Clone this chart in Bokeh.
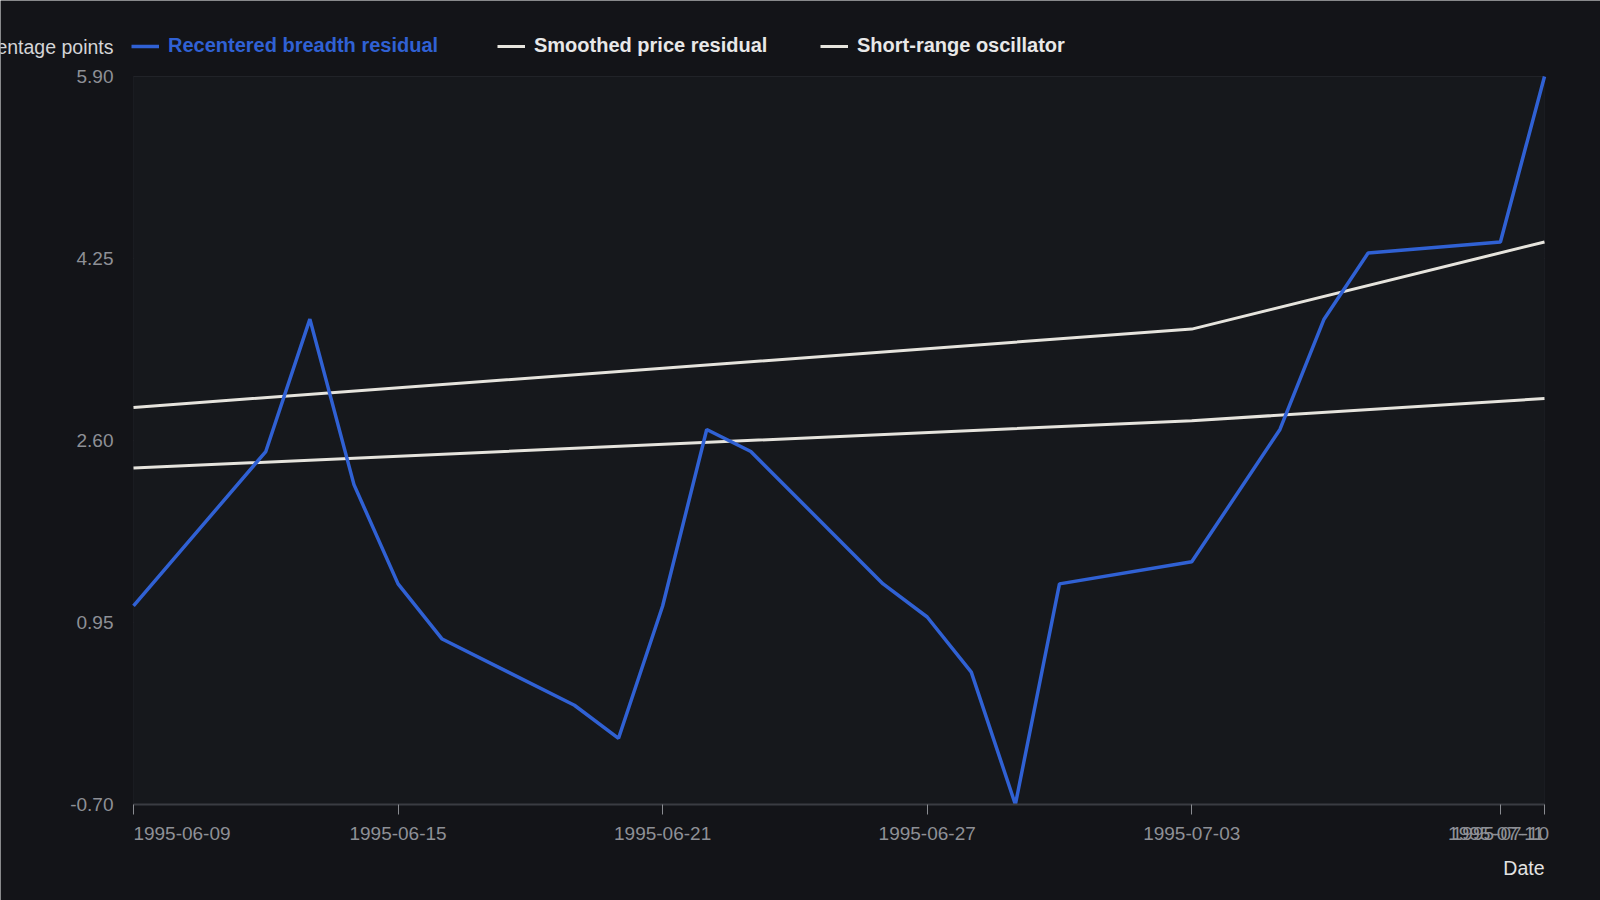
import pandas as pd
from bokeh.plotting import figure
from bokeh.models import (FixedTicker, DatetimeTickFormatter, PrintfTickFormatter, Legend,
                          Label, Range1d, BoxAnnotation, LinearAxis)
from bokeh.embed import file_html
from bokeh.resources import INLINE

# data
breadth_dates = [
    "1995-06-09", "1995-06-12", "1995-06-13", "1995-06-14", "1995-06-15",
    "1995-06-16", "1995-06-19", "1995-06-20", "1995-06-21", "1995-06-22",
    "1995-06-23", "1995-06-26", "1995-06-27", "1995-06-28", "1995-06-29",
    "1995-06-30", "1995-07-03", "1995-07-05", "1995-07-06", "1995-07-07",
    "1995-07-10", "1995-07-11",
]
breadth_values = [
    1.10, 2.50, 3.70, 2.20, 1.30,
    0.80, 0.20, -0.10, 1.10, 2.70,
    2.50, 1.30, 1.00, 0.50, -0.70,
    1.30, 1.50, 2.70, 3.70, 4.30,
    4.40, 5.90,
]
smoothed_dates = ["1995-06-09", "1995-07-03", "1995-07-11"]
smoothed_values = [2.90, 3.61, 4.40]
oscillator_dates = ["1995-06-09", "1995-07-03", "1995-07-11"]
oscillator_values = [2.35, 2.78, 2.98]

x_tick_dates = ["1995-06-09", "1995-06-15", "1995-06-21", "1995-06-27",
                "1995-07-03", "1995-07-10", "1995-07-11"]
y_ticks = [-0.70, 0.95, 2.60, 4.25, 5.90]

BG = "#131418"
PLOT_BG = "#16181c"
GRID = "#26282d"
BLUE = "#3061d4"
WHITE = "#e6e4dd"
TICK_TXT = "#8e9096"
FONT = "Liberation Sans"

W, H = 1600, 900
# where the data rectangle sits on the canvas (px)
AREA_L, AREA_R, AREA_T, AREA_B = 133, 1544, 76, 804
# x tick labels are kept inside the data box: first starts at its tick,
# last one ends at the right edge (px nudges of the label only)
LABEL_NUDGE = [48.5, 0, 0, 0, 0, 0, -48.5]


def ms(s):
    return pd.Timestamp(s).value / 1e6


# the frame fills the canvas; ranges are widened so the data box lands in place
x0, x1 = ms(x_tick_dates[0]), ms(x_tick_dates[-1])
y0, y1 = y_ticks[0], y_ticks[-1]
x_per_px = (x1 - x0) / (AREA_R - AREA_L)
y_per_px = (y1 - y0) / (AREA_B - AREA_T)

p = figure(
    x_axis_type="datetime",
    width=W, height=H,
    min_border=0, min_border_left=0, min_border_right=0,
    min_border_top=0, min_border_bottom=0,
    output_backend="svg",
    toolbar_location=None,
    background_fill_color=BG,
    border_fill_color=BG,
    x_range=Range1d(x0 - AREA_L * x_per_px, x1 + (W - AREA_R) * x_per_px),
    y_range=Range1d(y0 - (H - AREA_B) * y_per_px, y1 + AREA_T * y_per_px),
)
p.outline_line_color = None
p.xgrid.grid_line_color = None
p.ygrid.grid_line_color = None

# plot area panel and horizontal grid lines
p.add_layout(BoxAnnotation(left=x0, right=x1, bottom=y0, top=y1,
                           fill_color=PLOT_BG, fill_alpha=1,
                           line_color="#2a2c31", line_width=1, level="underlay"))
p.segment(x0=[x0] * len(y_ticks), y0=y_ticks, x1=[x1] * len(y_ticks), y1=y_ticks,
          line_color=GRID, line_width=1, level="underlay")

r_smooth = p.line(pd.to_datetime(smoothed_dates), smoothed_values, line_color=WHITE, line_width=3)
r_osc = p.line(pd.to_datetime(oscillator_dates), oscillator_values, line_color=WHITE, line_width=3)
r_blue = p.line(pd.to_datetime(breadth_dates), breadth_values, line_color=BLUE, line_width=3.5)

# x axis pinned to the bottom of the data box: line and tick marks only
tick_ms = [ms(d) for d in x_tick_dates]
xa = p.xaxis[0]
xa.fixed_location = y0
xa.bounds = (x0, x1)
xa.ticker = FixedTicker(ticks=tick_ms)
xa.major_label_overrides = {t: "" for t in tick_ms}
xa.axis_line_color = "#3a3c42"
xa.axis_line_width = 2
xa.major_tick_line_color = "#8a8c91"
xa.major_tick_in = 0
xa.major_tick_out = 10
xa.minor_tick_line_color = None

# second axis at the same place carries the date labels
label_pos = [t + n * x_per_px for t, n in zip(tick_ms, LABEL_NUDGE)]
xl = LinearAxis(fixed_location=y0, bounds=(x0, x1))
xl.ticker = FixedTicker(ticks=label_pos)
xl.major_label_overrides = {pos: d for pos, d in zip(label_pos, x_tick_dates)}
xl.axis_line_color = None
xl.major_tick_line_color = None
xl.major_tick_in = 0
xl.major_tick_out = 10
xl.minor_tick_line_color = None
xl.major_label_standoff = 12
xl.major_label_text_color = TICK_TXT
xl.major_label_text_font = FONT
xl.major_label_text_font_size = "19px"
p.add_layout(xl, "below")

# y axis, pinned to the left of the data box
p.yaxis.fixed_location = x0
p.yaxis.bounds = (y0, y1)
p.yaxis.ticker = FixedTicker(ticks=y_ticks)
p.yaxis.formatter = PrintfTickFormatter(format="%.2f")
p.yaxis.axis_line_color = None
p.yaxis.major_tick_line_color = None
p.yaxis.minor_tick_line_color = None
p.yaxis.major_label_standoff = 14
p.yaxis.major_label_text_color = TICK_TXT
p.yaxis.major_label_text_font = FONT
p.yaxis.major_label_text_font_size = "19px"

# axis titles
p.add_layout(Label(x=AREA_L - 20, y=H - 46, x_units="screen", y_units="screen",
                   text="Percentage points", text_align="right", text_baseline="middle",
                   text_color="#d4d5d7", text_font=FONT, text_font_size="19.5px"))
p.add_layout(Label(x=AREA_R, y=H - 867, x_units="screen", y_units="screen",
                   text="Date", text_align="right", text_baseline="middle",
                   text_color="#e2e2e2", text_font=FONT, text_font_size="19.5px"))

# legends along the top
legend_common = dict(
    orientation="horizontal", glyph_width=28, glyph_height=20, label_height=22,
    label_standoff=9, padding=0, margin=0, background_fill_alpha=0,
    border_line_color=None, label_text_font=FONT, label_text_font_size="20px",
    label_text_font_style="bold",
)
p.add_layout(Legend(items=[("Recentered breadth residual", [r_blue])],
                    location=(131, H - 57), label_text_color=BLUE, **legend_common))
p.add_layout(Legend(items=[("Smoothed price residual", [r_smooth])],
                    location=(497, H - 57), label_text_color="#e8e8e8", **legend_common))
p.add_layout(Legend(items=[("Short-range oscillator", [r_osc])],
                    location=(820, H - 57), label_text_color="#e8e8e8", **legend_common))

open("out.html", "w").write(file_html(p, INLINE))
